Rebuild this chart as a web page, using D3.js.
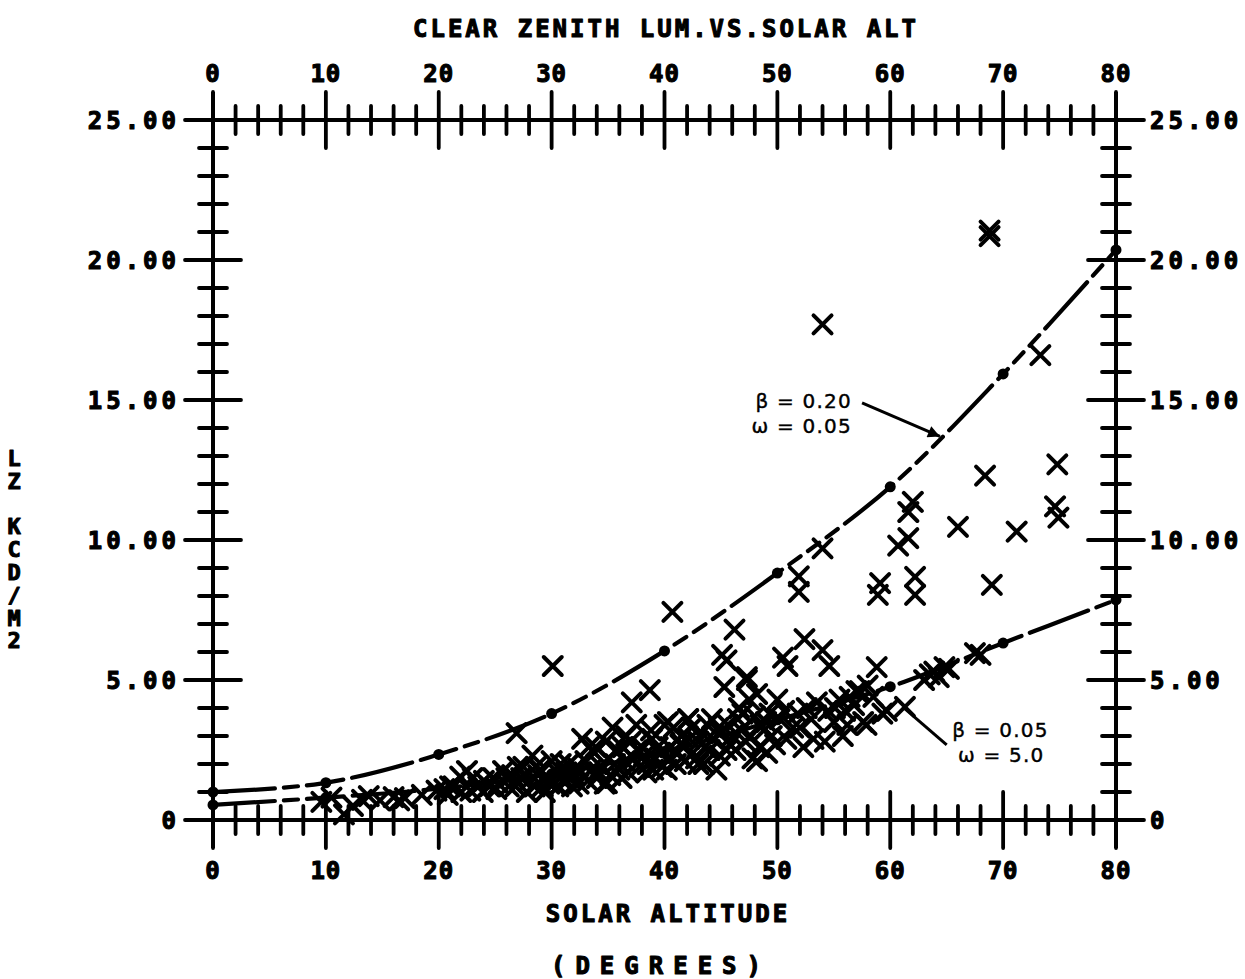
<!DOCTYPE html>
<html>
<head>
<meta charset="utf-8">
<script src="https://cdn.jsdelivr.net/npm/d3@7"></script>
<style>
html,body{margin:0;padding:0;background:#fff;}
svg{display:block;}
</style>
</head>
<body>
<svg id="chart" width="1245" height="979"></svg>
<script>
// ---------- data ----------
const titleText = "CLEAR ZENITH LUM.VS.SOLAR ALT";
const xLabel1 = "SOLAR ALTITUDE";
const xLabel2 = "(DEGREES)";
const yLabelChars = ["L","Z","","K","C","D","/","M","2"];

const xTicksMajor = [0,10,20,30,40,50,60,70,80];
const xTickLabels = ["0","10","20","30","40","50","60","70","80"];
const yTicksMajor = [0,5,10,15,20,25];
const yTickLabels = ["0","5.00","10.00","15.00","20.00","25.00"];

// model curve: beta = 0.20, omega = 0.05
const curveAlt = [0,10,20,30,40,50,60,70,80];
const curveHigh = [1.0,1.33,2.34,3.80,6.04,8.82,11.9,15.93,20.36];
// model curve: beta = 0.05, omega = 5.0
const curveLow = [0.54,0.80,1.12,1.65,2.45,3.58,4.76,6.32,7.86];

// measured points (solar altitude, zenith luminance kcd/m2)
const obsAlt = [
 9.6,10.5,11.6,12.4,13.2,13.8,16.0,16.5,17.0,19.8,20.5,21.3,21.9,22.5,22.8,23.5,23.9,24.5,25.1,25.7,
 26.0,26.5,26.9,27.0,27.5,28.0,28.3,28.5,28.8,29.2,29.5,30.1,30.5,31.0,31.5,32.0,32.4,32.7,33.0,33.5,
 34.0,34.7,35.0,35.4,35.8,36.0,36.5,37.0,37.1,37.5,37.8,38.2,38.7,39.0,39.4,40.0,40.3,40.7,41.0,41.5,
 42.1,42.5,43.0,43.8,44.0,44.6,45.0,45.1,45.3,45.5,45.8,46.2,46.5,46.9,47.3,47.5,47.8,48.2,48.5,49.1,
 49.3,50.0,50.5,50.9,51.4,51.9,51.9,52.3,52.4,52.6,53.0,54.0,54.0,54.0,54.2,54.6,55.1,55.8,56.4,57.3,
 57.6,57.9,58.8,58.9,59.1,59.3,59.7,60.7,61.3,61.6,61.6,62.0,62.2,62.2,63.5,63.9,64.3,64.8,66.0,67.5,
 68.0,68.4,68.8,68.8,69.0,71.2,73.3,74.6,74.8,74.9,
 29.0,29.8,30.8,31.3,32.2,33.2,33.8,34.4,35.2,36.3,36.8,37.3,38.0,38.5,39.2,39.8,40.5,41.2,41.8,42.2,
 42.8,43.3,44.3,44.8,45.5,46.0,46.8,47.2,48.0,48.8,49.5,50.2,50.8,51.8,53.5,54.5,55.5,56.0,56.8,57.0,
 47.3,48.2,42.1,40.3,34.9,36.2,38.9,41.6,43.5,33.9,31.8,30.2,27.8,26.2,24.0,21.0,18.5,14.8,63.0,65.2,
 25.3,26.8,27.3,28.6,29.4,30.0,30.6,31.6,32.6,33.3,34.2,34.8,35.6,36.6,37.6,38.4,38.8,39.6,40.2,40.8,
 41.4,42.4,43.0,43.6,44.2,44.9,45.6,46.3,46.6,47.6,48.4,49.0,49.8,50.6,52.0,53.2,55.0,56.2,58.0,58.5,
 22.0,23.0,24.8,20.8
];
const obsLum = [
 0.65,0.80,0.20,0.50,0.72,0.85,0.82,0.70,0.78,1.05,1.10,1.20,1.55,1.75,1.05,1.20,1.00,1.20,1.10,1.75,
 1.50,1.60,3.10,1.90,1.90,1.40,2.30,1.20,1.60,1.20,1.50,5.50,1.70,1.40,2.00,1.60,1.30,2.90,2.10,1.80,
 1.50,1.30,2.20,3.30,2.50,1.80,2.10,2.80,4.20,3.40,1.90,2.30,4.64,1.80,2.60,3.40,2.20,7.43,2.00,3.00,
 3.60,2.40,2.80,3.40,2.50,1.80,3.10,5.90,4.75,5.70,2.70,6.80,3.60,3.80,5.00,4.30,2.20,2.10,3.40,2.40,
 3.80,4.30,5.80,5.50,3.30,8.70,8.15,2.60,6.46,4.00,3.60,9.70,17.70,6.07,2.80,5.50,4.00,3.00,4.40,4.60,
 3.50,3.40,5.46,8.04,8.46,3.80,3.90,9.80,4.04,10.07,11.00,11.36,8.68,8.04,5.20,5.30,5.10,5.46,10.47,5.96,
 5.90,12.30,21.05,20.85,8.40,10.30,16.60,11.20,12.70,10.80,
 1.80,1.30,2.00,1.70,1.90,1.40,2.40,1.90,1.60,2.60,1.70,2.20,2.60,2.00,2.20,1.90,2.60,2.40,2.10,2.90,
 2.20,3.10,2.90,3.30,2.50,3.00,3.20,2.80,3.70,3.20,3.00,3.60,2.90,3.80,4.20,3.90,4.30,3.90,4.10,4.60,
 5.10,4.50,3.60,3.50,1.32,1.50,2.90,2.70,2.00,2.60,1.20,1.30,1.00,1.20,1.40,1.20,0.90,0.70,5.00,5.40,
 1.30,1.20,1.50,1.90,1.00,2.10,1.20,1.50,1.70,2.60,1.70,2.80,2.00,3.00,2.50,1.70,3.20,2.40,1.80,3.30,
 2.70,3.30,2.00,2.60,3.60,2.30,3.40,2.50,4.00,3.00,2.60,3.50,2.70,3.90,3.30,2.90,3.50,3.40,4.80,4.40,
 1.00,1.50,1.50,0.90
];

const annHigh = ["\u03B2 = 0.20", "\u03C9 = 0.05"];
const annLow = ["\u03B2 = 0.05", "\u03C9 = 5.0"];

// ---------- drawing ----------
const svg = d3.select("#chart");
svg.append("rect").attr("width",1245).attr("height",979).attr("fill","#fff");

const x = d3.scaleLinear().domain([0,80]).range([213,1116]);
const y = d3.scaleLinear().domain([0,25]).range([820,120]);

const ink = "#000";
const monoFont = "'DejaVu Sans Mono', 'Liberation Mono', monospace";
const g = svg.append("g");

const xMinor = d3.range(0,81,2).filter(v => v % 10 !== 0);
const yMinor = d3.range(0,26,1).filter(v => v % 5 !== 0);
const majLen = 28, minLen = 14, ext = 27;

// axis lines
const axes = g.append("g").attr("stroke",ink).attr("stroke-width",4).attr("stroke-linecap","butt");
[y(25), y(0)].forEach(yy => {
  axes.append("line").attr("x1",x(0)-ext).attr("x2",x(80)+ext).attr("y1",yy).attr("y2",yy);
});
[x(0), x(80)].forEach(xx => {
  axes.append("line").attr("x1",xx).attr("x2",xx).attr("y1",y(25)-majLen).attr("y2",y(0)+majLen);
});

// x ticks (top and bottom)
const ticks = g.append("g").attr("stroke",ink).attr("stroke-width",3.8).attr("stroke-linecap","round");
[y(25), y(0)].forEach(yy => {
  ticks.selectAll(null).data(xTicksMajor).enter().append("line")
    .attr("x1",d=>x(d)).attr("x2",d=>x(d)).attr("y1",yy-majLen).attr("y2",yy+majLen);
  ticks.selectAll(null).data(xMinor).enter().append("line")
    .attr("x1",d=>x(d)).attr("x2",d=>x(d)).attr("y1",yy-minLen).attr("y2",yy+minLen);
});
// y ticks (left and right)
[x(0), x(80)].forEach(xx => {
  ticks.selectAll(null).data(yTicksMajor).enter().append("line")
    .attr("y1",d=>y(d)).attr("y2",d=>y(d)).attr("x1",xx-majLen).attr("x2",xx+majLen);
  ticks.selectAll(null).data(yMinor).enter().append("line")
    .attr("y1",d=>y(d)).attr("y2",d=>y(d)).attr("x1",xx-minLen).attr("x2",xx+minLen);
});

// tick labels
const lab = g.append("g").attr("font-family",monoFont).attr("font-weight","bold")
  .attr("font-size",24).attr("fill",ink).attr("stroke",ink).attr("stroke-width",1.1)
  .attr("stroke-linejoin","round");
lab.selectAll(null).data(xTicksMajor).enter().append("text")
  .attr("x",d=>x(d)).attr("y",y(25)-38).attr("text-anchor","middle")
  .attr("letter-spacing",1).text((d,i)=>xTickLabels[i]);
lab.selectAll(null).data(xTicksMajor).enter().append("text")
  .attr("x",d=>x(d)).attr("y",y(0)+59).attr("text-anchor","middle")
  .attr("letter-spacing",1).text((d,i)=>xTickLabels[i]);
lab.selectAll(null).data(yTicksMajor).enter().append("text")
  .attr("x",x(0)-33).attr("y",d=>y(d)+9).attr("text-anchor","end")
  .attr("letter-spacing",4).text((d,i)=>yTickLabels[i]);
lab.selectAll(null).data(yTicksMajor).enter().append("text")
  .attr("x",x(80)+34).attr("y",d=>y(d)+9).attr("text-anchor","start")
  .attr("letter-spacing",4).text((d,i)=>yTickLabels[i]);

// titles
lab.append("text").attr("x",666).attr("y",37).attr("text-anchor","middle")
  .attr("letter-spacing",3).text(titleText);
lab.append("text").attr("x",668).attr("y",922).attr("text-anchor","middle")
  .attr("letter-spacing",3).text(xLabel1);
lab.append("text").attr("x",661).attr("y",974).attr("text-anchor","middle")
  .attr("letter-spacing",10).text(xLabel2);
const yl = lab.append("text").attr("font-size",22).attr("text-anchor","middle");
yl.selectAll("tspan").data(yLabelChars).enter().append("tspan")
  .attr("x",14).attr("y",(d,i)=>458+i*22.8+8).text(d=>d === "" ? "\u00A0" : d);

// model curves
const line = d3.line().x(d=>x(d[0])).y(d=>y(d[1])).curve(d3.curveCatmullRom);
const curves = [curveHigh, curveLow];
curves.forEach(vals => {
  const pts = curveAlt.map((a,i)=>[a, vals[i]]);
  g.append("path").attr("d",line(pts)).attr("fill","none").attr("stroke",ink)
    .attr("stroke-width",4.2).attr("stroke-linecap","round")
    .attr("stroke-dasharray","62,9,14,9,14,9,14,9");
  g.selectAll(null).data(pts).enter().append("circle")
    .attr("cx",d=>x(d[0])).attr("cy",d=>y(d[1])).attr("r",5.5).attr("fill",ink);
});

// observations as X marks
const xs = g.append("g").attr("stroke",ink).attr("stroke-width",4).attr("stroke-linecap","round").attr("fill","none");
xs.selectAll("path").data(obsAlt.map((a,i)=>[a, obsLum[i]])).enter().append("path")
  .attr("transform",d=>`translate(${x(d[0])},${y(d[1])})`)
  .attr("d","M-9,-9L9,9M-9,9L9,-9");

// annotations
const ann = g.append("g").attr("font-family","'DejaVu Sans', sans-serif").attr("font-size",20)
  .attr("fill",ink).attr("stroke",ink).attr("stroke-width",0.4).attr("letter-spacing",1.2);
ann.append("text").attr("x",x(56.6)).attr("y",y(14.7)).attr("text-anchor","end").text(annHigh[0]);
ann.append("text").attr("x",x(56.6)).attr("y",y(14.7)+25).attr("text-anchor","end").text(annHigh[1]);
ann.append("text").attr("x",x(65.5)).attr("y",y(2.95)).attr("text-anchor","start").text(annLow[0]);
ann.append("text").attr("x",x(66.0)).attr("y",y(2.95)+25).attr("text-anchor","start").text(annLow[1]);

svg.append("defs").append("marker").attr("id","ah").attr("viewBox","0 0 10 10")
  .attr("refX",10).attr("refY",5).attr("markerWidth",5).attr("markerHeight",4)
  .attr("orient","auto").attr("markerUnits","strokeWidth")
  .append("path").attr("d","M0,0L10,5L0,10z").attr("fill",ink);
g.append("line").attr("x1",x(57.5)).attr("y1",y(14.9)).attr("x2",x(64.4)).attr("y2",y(13.7))
  .attr("stroke",ink).attr("stroke-width",3).attr("marker-end","url(#ah)");
g.append("line").attr("x1",x(65.0)).attr("y1",y(2.68)).attr("x2",x(61.1)).attr("y2",y(4.04))
  .attr("stroke",ink).attr("stroke-width",3);
</script>
</body>
</html>
